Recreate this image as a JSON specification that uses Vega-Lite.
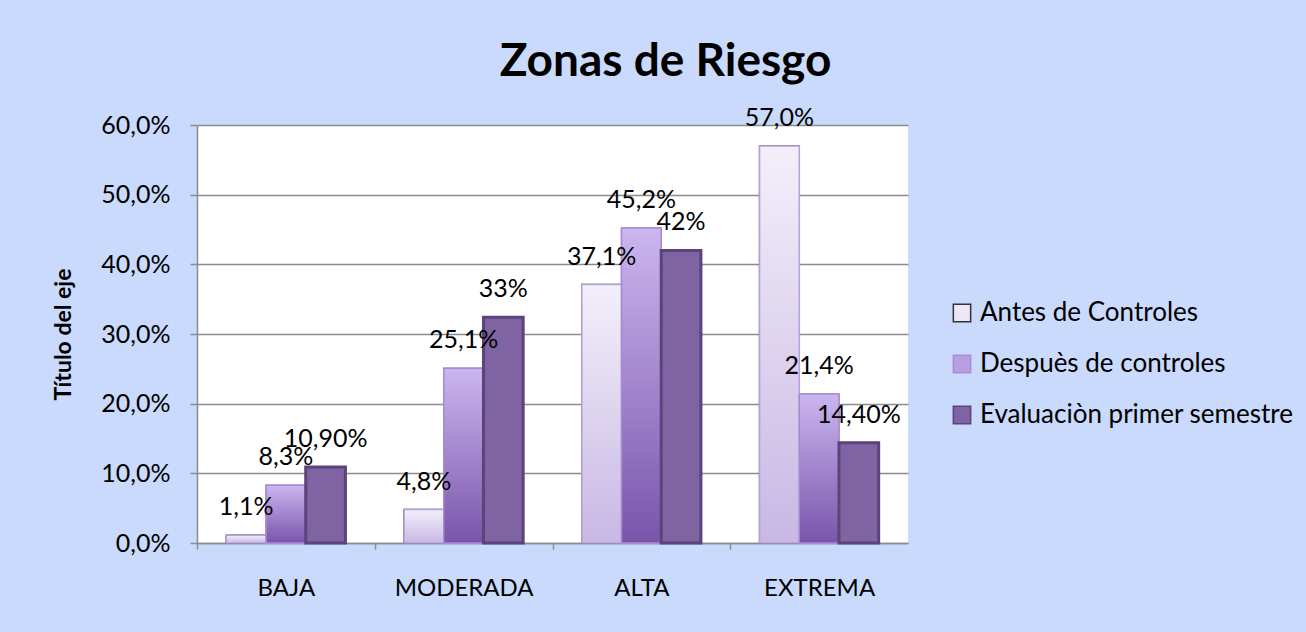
{
  "$schema": "https://vega.github.io/schema/vega-lite/v6.json",
  "autosize": "none",
  "width": 711,
  "height": 418,
  "padding": {"left": 197, "top": 125, "right": 398, "bottom": 89},
  "background": "#c9dafc",
  "config": {
    "view": {"stroke": null, "fill": "#ffffff"},
    "font": "Lato"
  },
  "title": {
    "text": "Zonas de Riesgo",
    "font": "Lato",
    "fontSize": 46,
    "fontWeight": "bold",
    "color": "#000000",
    "anchor": "middle",
    "frame": "group",
    "dx": 113,
    "offset": 20
  },
  "data": {
    "values": [
      {"zona": "BAJA", "serie": "Antes de Controles", "valor": 1.1, "etiqueta": "1,1%"},
      {"zona": "BAJA", "serie": "Despuès de controles", "valor": 8.3, "etiqueta": "8,3%"},
      {"zona": "BAJA", "serie": "Evaluaciòn primer semestre", "valor": 10.9, "etiqueta": "10,90%"},
      {"zona": "MODERADA", "serie": "Antes de Controles", "valor": 4.8, "etiqueta": "4,8%"},
      {"zona": "MODERADA", "serie": "Despuès de controles", "valor": 25.1, "etiqueta": "25,1%"},
      {"zona": "MODERADA", "serie": "Evaluaciòn primer semestre", "valor": 32.4, "etiqueta": "33%"},
      {"zona": "ALTA", "serie": "Antes de Controles", "valor": 37.1, "etiqueta": "37,1%"},
      {"zona": "ALTA", "serie": "Despuès de controles", "valor": 45.2, "etiqueta": "45,2%"},
      {"zona": "ALTA", "serie": "Evaluaciòn primer semestre", "valor": 42.0, "etiqueta": "42%"},
      {"zona": "EXTREMA", "serie": "Antes de Controles", "valor": 57.0, "etiqueta": "57,0%"},
      {"zona": "EXTREMA", "serie": "Despuès de controles", "valor": 21.4, "etiqueta": "21,4%"},
      {"zona": "EXTREMA", "serie": "Evaluaciòn primer semestre", "valor": 14.4, "etiqueta": "14,40%"}
    ]
  },
  "encoding": {
    "x": {
      "field": "zona",
      "type": "nominal",
      "sort": ["BAJA", "MODERADA", "ALTA", "EXTREMA"],
      "scale": {"paddingInner": 0.33, "paddingOuter": 0.165},
      "axis": {
        "title": null,
        "labelAngle": 0,
        "labelFont": "Lato",
        "labelFontSize": 24,
        "labelColor": "#000000",
        "labelPadding": 27,
        "labelBaseline": "top",
        "tickOffset": -88.875,
        "labelOffset": 88.875,
        "tickSize": 6,
        "tickColor": "#8c8c8c",
        "tickWidth": 1.5,
        "domainColor": "#8c8c8c",
        "domainWidth": 1.5
      }
    },
    "xOffset": {
      "field": "serie",
      "type": "nominal",
      "scale": {"domain": ["Antes de Controles", "Despuès de controles", "Evaluaciòn primer semestre"], "padding": 0}
    },
    "y": {
      "field": "valor",
      "type": "quantitative",
      "scale": {"domain": [0, 60], "nice": false},
      "axis": {
        "title": "Título del eje",
        "titleFont": "Lato",
        "titleFontSize": 23,
        "titleFontWeight": "bold",
        "titleColor": "#000000",
        "titlePadding": 25,
        "values": [0, 10, 20, 30, 40, 50, 60],
        "labelExpr": "replace(format(datum.value, '.1f'), '.', ',') + '%'",
        "labelFont": "Lato",
        "labelFontSize": 25,
        "labelColor": "#000000",
        "labelPadding": 20,
        "tickSize": 7,
        "tickColor": "#8c8c8c",
        "tickWidth": 1.5,
        "domainColor": "#8c8c8c",
        "domainWidth": 1.5,
        "grid": true,
        "gridColor": "#8c8c8c",
        "gridWidth": 1.5
      }
    }
  },
  "layer": [
    {
      "mark": {"type": "bar", "strokeWidth": 1.5},
      "encoding": {
        "color": {
          "field": "serie",
          "type": "nominal",
          "scale": {
            "domain": ["Antes de Controles", "Despuès de controles", "Evaluaciòn primer semestre"],
            "range": ["#ece7f5", "#b79fe0", "#7f63a3"]
          },
          "legend": {
            "orient": "none",
            "legendX": 752,
            "legendY": 175,
            "title": null,
            "labelFont": "Lato",
            "labelFontSize": 26,
            "labelColor": "#000000",
            "labelLimit": 500,
            "symbolType": "square",
            "symbolSize": 300,
            "symbolStrokeWidth": 1.5,
            "rowPadding": 25,
            "labelOffset": 5,
            "padding": 0
          }
        },
        "stroke": {
          "field": "serie",
          "type": "nominal",
          "scale": {
            "domain": ["Antes de Controles", "Despuès de controles", "Evaluaciòn primer semestre"],
            "range": ["#333333", "#a98dd6", "#5a4479"]
          },
          "legend": {
            "orient": "none",
            "legendX": 752,
            "legendY": 175,
            "title": null,
            "labelLimit": 500
          }
        }
      }
    },
    {
      "transform": [{"filter": "datum.serie === 'Antes de Controles'"}],
      "mark": {
        "type": "bar",
        "stroke": "#b8a2da",
        "strokeWidth": 1.5,
        "fill": {
          "gradient": "linear", "x1": 0, "y1": 0, "x2": 0, "y2": 1,
          "stops": [{"offset": 0, "color": "#f3effa"}, {"offset": 1, "color": "#c8b8e4"}]
        }
      }
    },
    {
      "transform": [{"filter": "datum.serie === 'Despuès de controles'"}],
      "mark": {
        "type": "bar",
        "stroke": "#a68ad2",
        "strokeWidth": 1.5,
        "fill": {
          "gradient": "linear", "x1": 0, "y1": 0, "x2": 0, "y2": 1,
          "stops": [{"offset": 0, "color": "#cbb6ef"}, {"offset": 1, "color": "#7a54ab"}]
        }
      }
    },
    {
      "transform": [{"filter": "datum.serie === 'Evaluaciòn primer semestre'"}],
      "mark": {
        "type": "bar",
        "stroke": "#5a4479",
        "strokeWidth": 3,
        "fill": "#7f63a3"
      }
    },
    {
      "mark": {
        "type": "text",
        "baseline": "alphabetic",
        "align": "center",
        "dy": -20,
        "font": "Lato",
        "fontSize": 25,
        "color": "#000000"
      },
      "encoding": {
        "text": {"field": "etiqueta", "type": "nominal"}
      }
    }
  ]
}
